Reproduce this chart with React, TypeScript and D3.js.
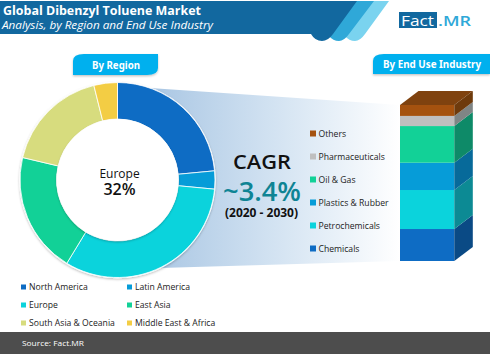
import React from "react";
import * as d3 from "d3";

const regions = ["North America", "Latin America", "Europe", "East Asia", "South Asia & Oceania", "Middle East & Africa"];
const regionShares = [23.5, 3, 32.2, 20, 17.4, 3.9];
const regionColors = ["#0e6cc4", "#069cd8", "#0bd3dc", "#12d197", "#d7dc7e", "#f3cd44"];
const industries = ["Chemicals", "Petrochemicals", "Plastics & Rubber", "Oil & Gas", "Pharmaceuticals", "Others"];
const industryShares = [20.5, 25, 17.5, 23.5, 6.5, 7];
const industryColors = ["#0e6cc4", "#0bd3dc", "#069cd8", "#12d197", "#bfbfbf", "#a5520f"];
const industrySide = ["#0a4a85", "#0c8a94", "#076a9a", "#0e8a68", "#7f8585", "#6e3a0c"];
const industryTop = "#7f420f";

const UI = "'Open Sans', 'Noto Sans', sans-serif";

export default function App() {
  const cx = 117.5, cy = 180;
  const pie = d3.pie<number>().sort(null)(regionShares);
  const arc = d3.arc<d3.PieArcDatum<number>>().innerRadius(61).outerRadius(97.5);
  const yScale = d3.scaleLinear().domain([0, d3.sum(industryShares)]).range([261, 105]);
  const stack = d3.stack<number[]>().keys(industries.map((_, i) => String(i))).value((d, k) => d[+k])([industryShares]);
  const bx0 = 400, bx1 = 454.3, dx = 18.5, dy = -14;
  const legendX = [21, 127];
  const legendY = [287, 305, 323];
  return (
    <svg width={490} height={356} style={{ position: "absolute", left: 0, top: 0, background: "#fff" }}>
      <defs>
        <linearGradient id="wedge" x1="0" x2="1" y1="0" y2="0">
          <stop offset="0" stopColor="#a9c6e3" />
          <stop offset="0.5" stopColor="#d3e3f2" />
          <stop offset="1" stopColor="#ffffff" />
        </linearGradient>
        <filter id="soft" x="-20%" y="-20%" width="140%" height="150%">
          <feDropShadow dx="0" dy="1.2" stdDeviation="1" floodColor="#000" floodOpacity="0.25" />
        </filter>
      </defs>

      {/* header */}
      <path d="M370 1 L389 1 L365 34 Q360 41 355 41 Q349 41 345 36 Z" fill="#7ad3ef" />
      <path d="M355 1 L374 1 L349 34 Q344 41 339 41 Q333 41 329 36 Z" fill="#2fa8d8" />
      <path d="M0 1 L357 1 L333 34 Q328 41 322 41 Q315 41 311 34 L0 34 Z" fill="#12689f" />
      <text x={3} y={15} fontFamily={UI} fontSize={12.5} fontWeight={700} fill="#fff" textLength={198} lengthAdjust="spacingAndGlyphs">Global Dibenzyl Toluene Market</text>
      <text x={2} y={28.5} fontFamily={UI} fontSize={11} fontStyle="italic" fill="#fff" textLength={211} lengthAdjust="spacingAndGlyphs">Analysis, by Region and End Use Industry</text>

      {/* logo */}
      <rect x={399} y={12} width={38} height={16} fill="#12689f" />
      <text x={401} y={26} fontFamily={UI} fontSize={15} fill="#fff" textLength={33} lengthAdjust="spacingAndGlyphs">Fact</text>
      <text x={438} y={26} fontFamily={UI} fontSize={15} fontWeight={600} fill="#2fa8d8" textLength={33} lengthAdjust="spacingAndGlyphs">.MR</text>

      {/* badges */}
      <path d="M73 75 L73 61 Q73 54 84 54 L158 54 L158 68 Q158 75 147 75 Z" fill="#03b0ee" filter="url(#soft)" />
      <text x={116} y={68.5} textAnchor="middle" fontFamily="'Noto Sans', sans-serif" fontSize={10.5} fontWeight={700} fill="#fff" textLength={48} lengthAdjust="spacingAndGlyphs">By Region</text>
      <path d="M373 74 L373 61 Q373 54 384 54 L490 54 L490 74 Z" fill="#03b0ee" filter="url(#soft)" />
      <text x={432} y={67.5} textAnchor="middle" fontFamily="'Noto Sans', sans-serif" fontSize={10} fontWeight={700} fill="#fff" textLength={98} lengthAdjust="spacingAndGlyphs">By End Use Industry</text>

      {/* wedge */}
      <polygon points="150,88 400,105 400,261 160,268" fill="url(#wedge)" />

      {/* donut */}
      <g transform={`translate(${cx},${cy})`}>
        <circle r={98.2} fill="#fff" filter="url(#soft)" />
        {pie.map((d, i) => (
          <path key={regions[i]} d={arc(d) ?? ""} fill={regionColors[i]} stroke="#fff" strokeWidth={0.8} />
        ))}
        <circle r={61} fill="#fff" filter="url(#soft)" />
        <text x={2} y={-2} textAnchor="middle" fontFamily={UI} fontSize={12} fill="#111">Europe</text>
        <text x={2} y={15} textAnchor="middle" fontFamily={UI} fontSize={16} fontWeight={600} fill="#111">32%</text>
      </g>

      {/* CAGR */}
      <text x={262} y={169} textAnchor="middle" fontFamily={UI} fontSize={19.5} fontWeight={600} fill="#111" textLength={58} lengthAdjust="spacingAndGlyphs">CAGR</text>
      <text x={262} y={201} textAnchor="middle" fontFamily={UI} fontSize={27} fontWeight={600} fill="#0f8494" textLength={78} lengthAdjust="spacingAndGlyphs">~3.4%</text>
      <text x={261.5} y={217} textAnchor="middle" fontFamily={UI} fontSize={11.5} fontWeight={700} fill="#111" textLength={73} lengthAdjust="spacingAndGlyphs">(2020 - 2030)</text>

      {/* bar */}
      <polygon points={`${bx0},105 ${bx0 + dx},${105 + dy} ${bx1 + dx},${105 + dy} ${bx1},105`} fill={industryTop} />
      {stack.map((s, i) => {
        const y0 = yScale(s[0][0]), y1 = yScale(s[0][1]);
        return (
          <g key={industries[i]}>
            <rect x={bx0} y={y1} width={bx1 - bx0} height={y0 - y1} fill={industryColors[i]} />
            <polygon points={`${bx1},${y1} ${bx1 + dx},${y1 + dy} ${bx1 + dx},${y0 + dy} ${bx1},${y0}`} fill={industrySide[i]} />
          </g>
        );
      })}

      {/* bar legend */}
      {[...industries].reverse().map((name, i) => {
        const y = 133.5 + i * 23;
        const c = [...industryColors].reverse()[i];
        return (
          <g key={name}>
            <rect x={310} y={y - 3} width={6} height={6} fill={c} />
            <text x={318.5} y={y + 3} fontFamily={UI} fontSize={8.65} fill="#222">{name}</text>
          </g>
        );
      })}

      {/* region legend */}
      {regions.map((name, i) => {
        const x = legendX[i % 2];
        const y = legendY[Math.floor(i / 2)];
        return (
          <g key={name}>
            <rect x={x} y={y - 2.5} width={5} height={5} fill={regionColors[i]} />
            <text x={x + 8} y={y + 3} fontFamily={UI} fontSize={8.65} fill="#222">{name}</text>
          </g>
        );
      })}

      {/* footer */}
      <rect x={0} y={332} width={490} height={22} fill="#4d4d4d" />
      <text x={22} y={346} fontFamily={UI} fontSize={8} fontWeight={400} fill="#fff" textLength={62} lengthAdjust="spacingAndGlyphs">Source: Fact.MR</text>
    </svg>
  );
}
